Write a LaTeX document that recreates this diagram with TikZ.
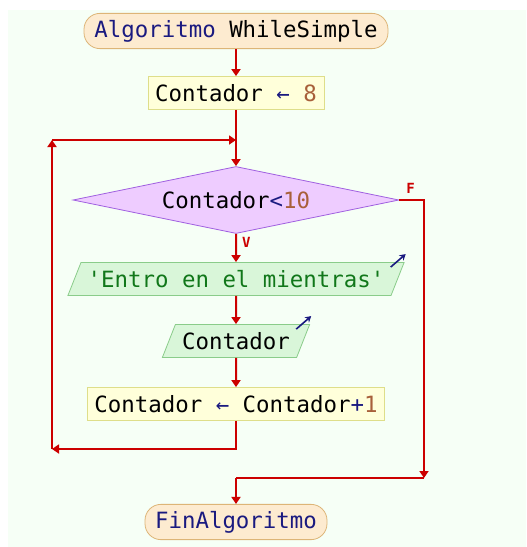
\documentclass[tikz,border=0pt]{standalone}
\usepackage{fontspec}
\setmonofont{DejaVu Sans Mono}
\usepackage{xcolor}
\usetikzlibrary{shapes.geometric, positioning, arrows.meta}
\definecolor{flowred}{HTML}{CC0000}
\definecolor{kwblue}{HTML}{1A1A80}
\definecolor{numbrown}{HTML}{A8603A}
\definecolor{strgreen}{HTML}{11771A}
\definecolor{termfill}{HTML}{FDEBD0}
\definecolor{termdraw}{HTML}{DDB577}
\definecolor{procfill}{HTML}{FFFFDA}
\definecolor{procdraw}{HTML}{DEDE8A}
\definecolor{condfill}{HTML}{EECCFF}
\definecolor{conddraw}{HTML}{A060E0}
\definecolor{iofill}{HTML}{D9F6D9}
\definecolor{iodraw}{HTML}{8ACC8A}
\definecolor{backdrop}{HTML}{F6FFF6}

\begin{document}
\begin{tikzpicture}[
    node distance=30pt, on grid, font=\ttfamily\fontsize{11.2}{13}\selectfont,
    terminal/.style={rectangle, rounded corners=8pt, draw=termdraw, fill=termfill, minimum height=17pt},
    process/.style={rectangle, draw=procdraw, fill=procfill, minimum height=16.5pt, inner xsep=3.5pt},
    decision/.style={diamond, aspect=4.87, draw=conddraw, fill=condfill, minimum width=163pt, minimum height=33.5pt, inner sep=1pt},
    inout/.style={trapezium, trapezium left angle=67, trapezium right angle=113, trapezium stretches body=true, draw=iodraw, fill=iofill, minimum height=16.5pt},
    flow/.style={draw=flowred, line width=1pt, -{Triangle[width=4.5pt,length=3.5pt]}},
    line/.style={draw=flowred, line width=1pt},
    branch/.style={text=flowred, inner sep=0pt, font=\ttfamily\bfseries\fontsize{7}{8}\selectfont},
    outicon/.style={draw=kwblue, line width=0.8pt, -{Stealth[length=3pt,width=3.5pt]}}
]
    % page and backdrop
    \useasboundingbox (0pt,0pt) rectangle (263pt,-273.5pt);
    \fill[backdrop] (4pt,-5pt) rectangle (263pt,-273.5pt);

    \node[terminal, minimum width=152pt] (start) at (118pt,-15.5pt) {\textcolor{kwblue}{Algoritmo} WhileSimple};
    \node[process] (init) [below=31pt of start] {Contador \textcolor{kwblue}{←} \textcolor{numbrown}{8}};
    \node[decision] (cond) [below=53.5pt of init] {Contador\textcolor{kwblue}{<}\textcolor{numbrown}{10}};
    \node[inout, minimum width=163pt] (msg) [below=39.5pt of cond] {\textcolor{strgreen}{'Entro en el mientras'}};
    \node[inout, minimum width=68pt] (show) [below=31pt of msg] {Contador};
    \node[process] (incr) [below=31.5pt of show] {Contador \textcolor{kwblue}{←} Contador\textcolor{kwblue}{+}\textcolor{numbrown}{1}};
    \node[terminal, minimum width=91pt] (stop) [below=59pt of incr] {\textcolor{kwblue}{FinAlgoritmo}};

    % loop corners
    \coordinate (join) at (118pt,-70pt);
    \coordinate (back) at (118pt,-224.5pt);
    \coordinate (backl) at (26pt,-224.5pt);
    \coordinate (upl) at (26pt,-70pt);
    \coordinate (exitr) at (212pt,-100pt);
    \coordinate (exitd) at (212pt,-239pt);
    \coordinate (merge) at (118pt,-239pt);

    \path[flow] (start) -- (init);
    \path[flow] (init) -- (cond);
    \path[flow] (cond) -- node[branch, pos=0.3, anchor=west, xshift=2.5pt] {V} (msg);
    \path[flow] (msg) -- (show);
    \path[flow] (show) -- (incr);
    \path[flow] (incr) -- (back) -- (backl);
    \path[flow] (backl) -- (upl);
    \path[flow] (upl) -- (join);
    \path[flow] (cond.east) -- node[branch, pos=0.45, anchor=south, yshift=3pt] {F} (exitr) -- (exitd);
    \path[line] (exitd) -- (merge);
    \path[flow] (merge) -- (stop);

    % output marks
    \draw[outicon] ([shift={(-7pt,-2.5pt)}]msg.top right corner) -- ++(7.5pt,6.5pt);
    \draw[outicon] ([shift={(-7pt,-2.5pt)}]show.top right corner) -- ++(7.5pt,6.5pt);
\end{tikzpicture}
\end{document}
